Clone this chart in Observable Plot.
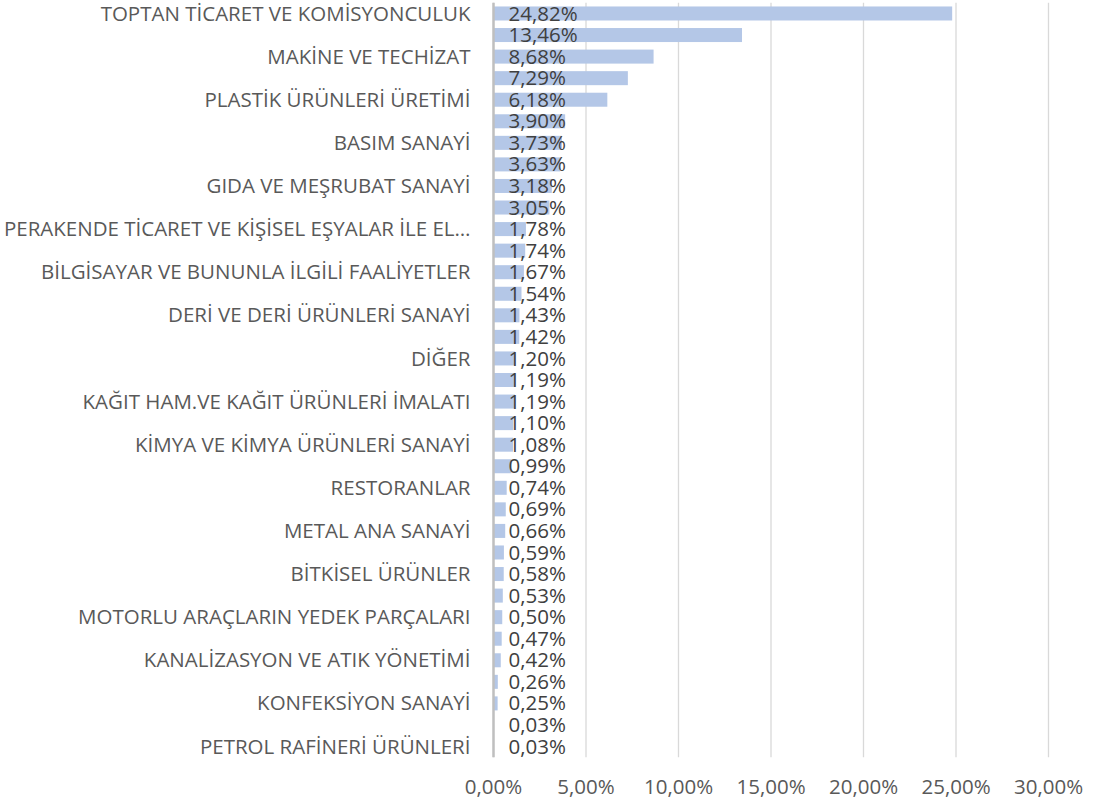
<!DOCTYPE html>
<html>
<head>
<meta charset="utf-8">
<script src="https://cdn.jsdelivr.net/npm/d3@7"></script>
<script src="https://cdn.jsdelivr.net/npm/@observablehq/plot@0.6"></script>
<style>
  html, body { margin: 0; padding: 0; background: #fff; }
  #chart { width: 1101px; height: 805px; }
</style>
</head>
<body>
<div id="chart"></div>
<script>
// Category labels (only every other label is shown in the original chart)
const categories = [
  "TOPTAN TİCARET VE KOMİSYONCULUK", null,
  "MAKİNE VE TECHİZAT", null,
  "PLASTİK ÜRÜNLERİ ÜRETİMİ", null,
  "BASIM SANAYİ", null,
  "GIDA VE MEŞRUBAT SANAYİ", null,
  "PERAKENDE TİCARET VE KİŞİSEL EŞYALAR İLE EL…", null,
  "BİLGİSAYAR VE BUNUNLA İLGİLİ FAALİYETLER", null,
  "DERİ VE DERİ ÜRÜNLERİ SANAYİ", null,
  "DİĞER", null,
  "KAĞIT HAM.VE KAĞIT ÜRÜNLERİ İMALATI", null,
  "KİMYA VE KİMYA ÜRÜNLERİ SANAYİ", null,
  "RESTORANLAR", null,
  "METAL ANA SANAYİ", null,
  "BİTKİSEL ÜRÜNLER", null,
  "MOTORLU ARAÇLARIN YEDEK PARÇALARI", null,
  "KANALİZASYON VE ATIK YÖNETİMİ", null,
  "KONFEKSİYON SANAYİ", null,
  "PETROL RAFİNERİ ÜRÜNLERİ"
];
// Share values (%)
const values = [
  24.82, 13.46, 8.68, 7.29, 6.18, 3.90, 3.73, 3.63, 3.18, 3.05,
  1.78, 1.74, 1.67, 1.54, 1.43, 1.42, 1.20, 1.19, 1.19, 1.10,
  1.08, 0.99, 0.74, 0.69, 0.66, 0.59, 0.58, 0.53, 0.50, 0.47,
  0.42, 0.26, 0.25, 0.03, 0.03
];
const xTicks = [0, 5, 10, 15, 20, 25, 30];

const data = values.map((v, i) => ({i, v}));
const fmt = d => d.toFixed(2).replace(".", ",") + "%";

const chart = Plot.plot({
  width: 1101,
  height: 805,
  marginLeft: 493,
  marginRight: 53,
  marginTop: 2.7,
  marginBottom: 47.7,
  style: {fontFamily: "'Open Sans', sans-serif", fontSize: "20.5px", color: "#595959", background: "#fff"},
  x: {domain: [0, 30], ticks: xTicks, tickFormat: fmt, label: null},
  y: {domain: d3.range(values.length), paddingInner: 0.35, paddingOuter: 0.175, round: false, label: null},
  marks: [
    Plot.gridX(xTicks, {stroke: "#d9d9d9", strokeOpacity: 1, strokeWidth: 1.3}),
    Plot.axisX(xTicks, {tickSize: 0, tickPadding: 22, tickFormat: fmt, fill: "#595959", fontSize: 20.5}),
    Plot.axisY({tickSize: 0, tickPadding: 23, tickFormat: i => categories[i] ?? "", fill: "#595959", fontSize: 20.5}),
    Plot.barX(data, {y: "i", x: "v", fill: "#b4c7e7"}),
    Plot.ruleX([0], {stroke: "#bfbfbf", strokeWidth: 2.5}),
    Plot.text(data, {y: "i", x: 0, text: d => fmt(d.v), textAnchor: "start", dx: 15, fill: "#404040", fontSize: 20.5})
  ]
});
document.getElementById("chart").appendChild(chart);
</script>
</body>
</html>
